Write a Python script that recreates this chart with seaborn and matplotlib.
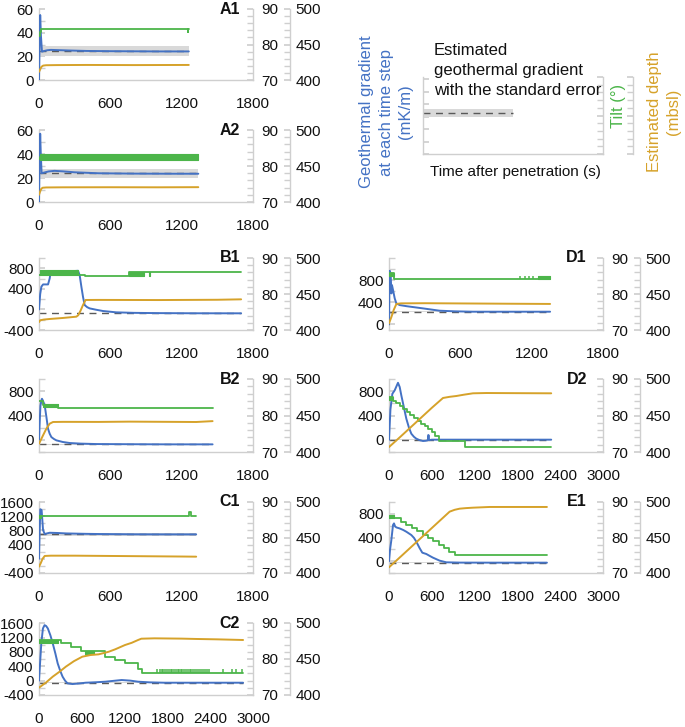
import matplotlib
matplotlib.use('Agg')
import matplotlib.pyplot as plt
import seaborn as sns
from matplotlib.ticker import MultipleLocator, NullFormatter

# colours
BLUE = '#4472C4'
GREEN = '#4CB54A'
GOLD = '#D6A22A'
SPINE = '#cfcfcf'
BAND = '#d9d9d9'
DASH = '#595959'

# ---------------- data ----------------
# A1
A1_GRAD_T = [0, 5, 10, 16, 25, 40, 70, 100, 160, 250, 400, 600, 800, 1000, 1260]
A1_GRAD = [0, 30, 55, 38, 24, 24.5, 25.2, 25.5, 25.3, 25.0, 24.6, 24.4, 24.3, 24.2, 24.2]
A1_EST, A1_SE = 24.2, 4.2
A1_TILT_T = [0, 8, 15, 1252, 1256, 1260]
A1_TILT = [82.3, 83.6, 84.3, 83.4, 84.3, 84.3]
A1_DEPTH_T = [0, 10, 20, 35, 60, 150, 400, 800, 1260]
A1_DEPTH = [411.5, 415, 418.5, 420.3, 420.8, 421.0, 421.2, 421.0, 421.2]
A1_FLICKER = []

# A2
A2_GRAD_T = [0, 4, 10, 15, 22, 40, 80, 130, 200, 300, 500, 800, 1100, 1340]
A2_GRAD = [0, 30, 57, 40, 24, 24.5, 25.5, 26.0, 25.6, 24.8, 24.0, 23.7, 23.6, 23.6]
A2_EST, A2_SE = 24.0, 3.8
A2_TILT_T = [0, 10, 1340]
A2_TILT = [81.9, 82.5, 82.5]
A2_DEPTH_T = [0, 8, 18, 30, 60, 200, 600, 1000, 1340]
A2_DEPTH = [410, 414, 418, 419.8, 420.2, 420.4, 420.5, 420.4, 420.6]
A2_FLICKER = [(10, 1340, 81.8, 83.2)]

# B1
B1_GRAD_T = [0, 10, 20, 34, 76, 90, 95, 104, 150, 202, 250, 286, 328, 342, 356, 370, 384, 405,
             426, 480, 538, 650, 800, 1000, 1300, 1700]
B1_GRAD = [0, 300, 443, 488, 488, 605, 689, 721, 730, 734, 740, 747, 754, 670, 450, 248, 86, 45,
           21, -5, -30, -56, -66, -71, -74, -75]
B1_EST, B1_SE = -70, 8
B1_TILT_T = [0, 340, 384, 756, 1700]
B1_TILT = [85.4, 85.3, 85.1, 86.0, 86.0]
B1_DEPTH_T = [0, 10, 40, 90, 200, 314, 330, 350, 370, 392, 500, 1000, 1500, 1700]
B1_DEPTH = [411.0, 413.5, 414.5, 415.3, 416.7, 418.5, 420.5, 427, 434.7, 441.7, 441.8, 441.6, 442.0, 442.6]
B1_FLICKER = [(5, 330, 85.4, 86.8), (756, 880, 85.1, 86.0), (925, 935, 85.1, 86.0)]

# B2
B2_GRAD_T = [0, 5, 12, 20, 25, 32, 48, 62, 76, 90, 104, 125, 146, 200, 258, 350, 482, 800, 1100, 1460]
B2_GRAD = [0, 250, 560, 650, 677, 650, 567, 380, 183, 100, 46, 15, -8, -35, -52, -62, -69, -72, -74, -74]
B2_EST, B2_SE = -74, 6
B2_TILT_T = [0, 30, 160, 1460]
B2_TILT = [83.9, 82.9, 82.1, 82.1]
B2_DEPTH_T = [0, 34, 62, 90, 118, 202, 500, 762, 1100, 1322, 1460]
B2_DEPTH = [411.4, 422.8, 432, 438.8, 441.1, 441.3, 441.2, 441.6, 441.3, 441.1, 442.3]
B2_FLICKER = [(30, 160, 82.3, 83.1)]

# C1
C1_GRAD_T = [0, 5, 11, 22, 34, 48, 70, 90, 150, 230, 400, 510, 800, 1100, 1322]
C1_GRAD = [0, 700, 1400, 1375, 811, 700, 720, 736, 730, 717, 705, 700, 692, 690, 690]
C1_EST, C1_SE = 689, 50
C1_TILT_T = [0, 20, 1265, 1275, 1322]
C1_TILT = [85.9, 86.15, 87.3, 86.15, 86.15]
C1_DEPTH_T = [0, 15, 30, 48, 100, 300, 600, 900, 1200, 1322]
C1_DEPTH = [408.9, 414, 420, 424, 424.4, 424.4, 424.0, 423.6, 423.2, 423.0]
C1_FLICKER = [(0, 20, 85.6, 86.4)]

# C2
C2_GRAD_T = [0, 32, 55, 78, 100, 124, 160, 193, 230, 262, 300, 331, 365, 400, 469, 560, 653, 800,
             929, 1050, 1159, 1280, 1389, 1550, 1757, 2200, 2861]
C2_GRAD = [0, 1035, 1452, 1544, 1520, 1452, 1260, 1035, 750, 480, 260, 109, 0, -76, -95, -80, -58, -45,
           -30, -5, 17, 0, -30, -48, -58, -58, -58]
C2_EST, C2_SE = -57, 10
C2_TILT_T = [0, 310, 446, 590, 920, 1060, 1200, 1390, 1440, 2861]
C2_TILT = [85.3, 84.4, 83.2, 82.3, 80.6, 79.7, 78.8, 77.3, 76.2, 76.2]
C2_DEPTH_T = [0, 100, 193, 290, 377, 490, 607, 720, 837, 975, 1067, 1205, 1300, 1389, 1435, 1619,
              2000, 2217, 2500, 2861]
C2_DEPTH = [410.2, 417.5, 425.5, 432.5, 439.4, 447, 453.2, 455.5, 456.5, 460, 463.4, 469.4, 472.5,
            476.4, 478.2, 478.7, 478.3, 477.8, 477.3, 476.4]
C2_FLICKER = [(0, 260, 84.4, 85.3), (650, 770, 81.4, 82.3)]
C2_SPIKE_T = [1660, 1690, 1720, 1745, 1770, 1800, 1825, 1850, 1870, 1895, 1920, 1945, 1965, 1990,
              2010, 2035, 2060, 2085, 2110, 2135, 2160, 2190, 2215, 2245, 2270, 2300, 2330, 2360,
              2390, 2585, 2705, 2765, 2845]
C2_SPIKE_LO, C2_SPIKE_HI = 76.2, 77.3

# D1
D1_GRAD_T = [0, 3, 6, 14, 20, 25, 34, 48, 62, 90, 150, 286, 426, 550, 706, 1000, 1355]
D1_GRAD = [0, 600, 971, 923, 562, 712, 622, 472, 381, 351, 330, 291, 249, 238, 231, 231, 231]
D1_EST, D1_SE = 231, 10
D1_TILT_T = [0, 39, 1355]
D1_TILT = [85.7, 84.1, 84.1]
D1_DEPTH_T = [0, 20, 40, 62, 100, 300, 700, 1000, 1355]
D1_DEPTH = [409.3, 418, 428, 436.1, 437, 437.2, 436.8, 436.5, 436.2]
D1_FLICKER = [(0, 39, 84.9, 85.9), (1250, 1355, 84.1, 85.0)]
D1_SPIKE_T = [1098, 1141, 1175, 1211]
D1_SPIKE_LO, D1_SPIKE_HI = 84.1, 85.0

# D2
D2_GRAD_T = [0, 20, 47, 79, 126, 150, 173, 208, 243, 280, 313, 350, 383, 430, 476, 520, 546, 551,
             556, 561, 600, 800, 1200, 1800, 2274]
D2_GRAD = [0, 500, 759, 814, 940, 870, 731, 540, 348, 200, 101, 50, 19, -5, -19, -15, -5, 80,
           74, -5, 3, 3, 3, 3, 3]
D2_EST, D2_SE = 4, 8
D2_TILT_T = [0, 50, 100, 150, 200, 250, 300, 350, 400, 450, 500, 550, 600, 650, 700, 1070, 2274]
D2_TILT = [85.1, 84.1, 83.4, 82.6, 81.8, 81.0, 80.2, 79.4, 78.6, 77.8, 77.0, 76.2, 75.4, 74.4,
           72.9, 71.3, 71.3]
D2_DEPTH_T = [0, 150, 300, 450, 600, 757, 850, 943, 1050, 1177, 1364, 1800, 2274]
D2_DEPTH = [406.8, 420, 433.5, 447, 460.5, 474, 475.6, 476.7, 478.5, 480.4, 480.8, 480.6, 480.4]
D2_FLICKER = [(0, 50, 84.2, 85.1)]

# E1
E1_GRAD_T = [0, 15, 33, 56, 70, 85, 103, 149, 200, 243, 313, 350, 383, 430, 467, 523, 570, 616,
             710, 803, 1000, 1500, 2214]
E1_GRAD = [0, 200, 358, 612, 640, 590, 572, 555, 528, 499, 443, 395, 330, 220, 144, 122, 90, 60,
           9, -19, -24, -25, -25]
E1_EST, E1_SE = -25, 6
E1_TILT_T = [0, 170, 245, 320, 395, 470, 545, 620, 695, 770, 845, 920, 2214]
E1_TILT = [85.4, 84.5, 83.6, 82.6, 81.7, 80.7, 79.8, 78.9, 77.9, 77.0, 76.0, 75.1, 75.1]
E1_DEPTH_T = [0, 200, 400, 600, 850, 920, 990, 1080, 1177, 1410, 1800, 2214]
E1_DEPTH = [408, 426.4, 444.9, 463.3, 486.4, 489, 490.6, 491.4, 492, 493, 493, 493]
E1_FLICKER = [(0, 70, 85.4, 86.3)]

# ---------------- figure ----------------
sns.set_theme(style='white')
plt.rcParams['font.family'] = ['Liberation Sans', 'DejaVu Sans']
plt.rcParams['axes.edgecolor'] = SPINE
plt.rcParams['axes.linewidth'] = 1.0

W, H = 685, 727
fig = plt.figure(figsize=(W / 100, H / 100), dpi=100)


def px_axes(left, top, right, bottom):
    return fig.add_axes([left / W, 1 - bottom / H, (right - left) / W, (bottom - top) / H])


def style_twins(ax, ax_t, ax_d, depth_pos):
    for a in (ax, ax_t, ax_d):
        a.set_facecolor('none')
        for s in a.spines.values():
            s.set_visible(False)
    ax.spines['left'].set_visible(True)
    ax.spines['bottom'].set_visible(True)
    ax_t.spines['right'].set_visible(True)
    ax_d.spines['right'].set_visible(True)
    ax_d.spines['right'].set_position(('axes', depth_pos))
    for a in (ax, ax_t, ax_d):
        for s in a.spines.values():
            s.set_color(SPINE)
    ax_t.set_ylim(70, 90)
    ax_d.set_ylim(400, 500)
    ax_t.yaxis.set_major_locator(MultipleLocator(10))
    ax_t.yaxis.set_minor_locator(MultipleLocator(2))
    ax_d.yaxis.set_major_locator(MultipleLocator(50))
    ax_d.yaxis.set_minor_locator(MultipleLocator(10))


def panel(rect, label, xmax, ylim, yticks, grad_t, grad, est, se,
          tilt_t, tilt, depth_t, depth, flicker, spikes=None, label_x=0.94):
    ax = px_axes(*rect)
    ax_t = ax.twinx()
    ax_d = ax.twinx()
    style_twins(ax, ax_t, ax_d, 1.173)

    t_end = grad_t[-1]
    ax.fill_between([0, t_end], [est - se] * 2, [est + se] * 2, color=BAND, lw=0, zorder=1)
    ax.plot([0, t_end], [est, est], color=DASH, lw=1.0, dashes=(5, 4), zorder=2)
    sns.lineplot(x=grad_t, y=grad, ax=ax, color=BLUE, lw=1.4, estimator=None, sort=False, zorder=3)

    for t0, t1, lo, hi in flicker:
        ax_t.fill_between([t0, t1], [lo, lo], [hi, hi], color=GREEN, lw=0.8, edgecolor=GREEN)
    if spikes is not None:
        s_t, s_lo, s_hi = spikes
        ax_t.vlines(s_t, s_lo, s_hi, color=GREEN, lw=1.1)
    sns.lineplot(x=tilt_t, y=tilt, ax=ax_t, color=GREEN, lw=1.3, estimator=None, sort=False,
                 drawstyle='steps-post')
    sns.lineplot(x=depth_t, y=depth, ax=ax_d, color=GOLD, lw=1.4, estimator=None, sort=False)

    for a in (ax, ax_t, ax_d):
        a.set_xlabel('')
        a.set_ylabel('')
    ax.set_xlim(0, xmax)
    span = ylim[1] - ylim[0]
    ax.set_ylim(ylim[0], ylim[1] + span * 0.002)
    ax.xaxis.set_major_locator(MultipleLocator(600))
    ax.xaxis.set_minor_locator(MultipleLocator(300))
    ax.set_yticks(yticks)
    ax.set_yticklabels([str(v) for v in yticks])
    step = yticks[1] - yticks[0]
    ax.yaxis.set_minor_locator(MultipleLocator(step / 2))

    ax.tick_params(axis='x', which='both', direction='in', length=4, color=SPINE,
                   pad=12, labelsize=11, labelcolor='#111111')
    ax.tick_params(axis='y', which='both', direction='in', length=4, color=SPINE,
                   pad=4, labelsize=11, labelcolor='#111111')
    ax_t.tick_params(axis='y', which='both', direction='in', length=4, color=SPINE,
                     pad=6, labelsize=11, labelcolor='#111111')
    ax_d.tick_params(axis='y', which='both', direction='in', length=4, color=SPINE,
                     pad=4, labelsize=11, labelcolor='#111111')
    ax.text(label_x, 1.0, label, transform=ax.transAxes, ha='right', va='center',
            fontsize=11.5, fontweight='bold', color='#111111')
    return ax


LEFT = (39, 253)
RIGHT = (389, 603)

panel((LEFT[0], 9, LEFT[1], 80), 'A1', 1800, (0, 60), [0, 20, 40, 60],
      A1_GRAD_T, A1_GRAD, A1_EST, A1_SE, A1_TILT_T, A1_TILT, A1_DEPTH_T, A1_DEPTH, A1_FLICKER)
panel((LEFT[0], 130, LEFT[1], 202), 'A2', 1800, (0, 60), [0, 20, 40, 60],
      A2_GRAD_T, A2_GRAD, A2_EST, A2_SE, A2_TILT_T, A2_TILT, A2_DEPTH_T, A2_DEPTH, A2_FLICKER)
panel((LEFT[0], 258, LEFT[1], 330), 'B1', 1800, (-400, 1000), [-400, 0, 400, 800],
      B1_GRAD_T, B1_GRAD, B1_EST, B1_SE, B1_TILT_T, B1_TILT, B1_DEPTH_T, B1_DEPTH, B1_FLICKER)
panel((LEFT[0], 379, LEFT[1], 452), 'B2', 1800, (-200, 1000), [0, 400, 800],
      B2_GRAD_T, B2_GRAD, B2_EST, B2_SE, B2_TILT_T, B2_TILT, B2_DEPTH_T, B2_DEPTH, B2_FLICKER)
panel((LEFT[0], 502, LEFT[1], 573), 'C1', 1800, (-400, 1600), [-400, 0, 400, 800, 1200, 1600],
      C1_GRAD_T, C1_GRAD, C1_EST, C1_SE, C1_TILT_T, C1_TILT, C1_DEPTH_T, C1_DEPTH, C1_FLICKER)
panel((LEFT[0], 623, LEFT[1], 695), 'C2', 3000, (-400, 1600), [-400, 0, 400, 800, 1200, 1600],
      C2_GRAD_T, C2_GRAD, C2_EST, C2_SE, C2_TILT_T, C2_TILT, C2_DEPTH_T, C2_DEPTH, C2_FLICKER,
      spikes=(C2_SPIKE_T, C2_SPIKE_LO, C2_SPIKE_HI))
panel((RIGHT[0], 258, RIGHT[1], 330), 'D1', 1800, (-100, 1200), [0, 400, 800],
      D1_GRAD_T, D1_GRAD, D1_EST, D1_SE, D1_TILT_T, D1_TILT, D1_DEPTH_T, D1_DEPTH, D1_FLICKER,
      spikes=(D1_SPIKE_T, D1_SPIKE_LO, D1_SPIKE_HI), label_x=0.925)
panel((RIGHT[0], 379, RIGHT[1], 452), 'D2', 3000, (-200, 1000), [0, 400, 800],
      D2_GRAD_T, D2_GRAD, D2_EST, D2_SE, D2_TILT_T, D2_TILT, D2_DEPTH_T, D2_DEPTH, D2_FLICKER,
      label_x=0.925)
panel((RIGHT[0], 502, RIGHT[1], 573), 'E1', 3000, (-200, 1000), [0, 400, 800],
      E1_GRAD_T, E1_GRAD, E1_EST, E1_SE, E1_TILT_T, E1_TILT, E1_DEPTH_T, E1_DEPTH, E1_FLICKER,
      label_x=0.925)

# ---------------- key panel (top right) ----------------
key = px_axes(423, 77, 603, 154)
key_t = key.twinx()
key_d = key.twinx()
style_twins(key, key_t, key_d, 1.167)
key.set_xlim(0, 5)
key.set_ylim(0, 6.2)
key.fill_between([0, 2.5], [2.95, 2.95], [3.65, 3.65], color=BAND, lw=0)
key.plot([0, 2.5], [3.3, 3.3], color=DASH, lw=1.0, dashes=(5, 4))
key.xaxis.set_major_locator(MultipleLocator(1))
key.yaxis.set_major_locator(MultipleLocator(1))
for a in (key, key_t, key_d):
    a.xaxis.set_major_formatter(NullFormatter())
    a.yaxis.set_major_formatter(NullFormatter())
    a.yaxis.set_minor_formatter(NullFormatter())
key.tick_params(axis='both', which='both', direction='in', length=4, color=SPINE)
key_t.tick_params(axis='y', which='both', direction='in', length=4, color=SPINE)
key_d.tick_params(axis='y', which='both', direction='in', length=4, color=SPINE)


def fx(x):
    return x / W


def fy(y):
    return 1 - y / H


fig.text(fx(434), fy(43), 'Estimated\ngeothermal gradient\nwith the standard error',
         ha='left', va='top', fontsize=12, color='#111111', linespacing=1.4)
fig.text(fx(515), fy(172), 'Time after penetration (s)', ha='center', va='center',
         fontsize=11, color='#111111')
fig.text(fx(386), fy(112), 'Geothermal gradient\nat each time step\n(mK/m)', ha='center',
         va='center', rotation=90, fontsize=12, color=BLUE, linespacing=1.35, multialignment='center')
fig.text(fx(618), fy(106), 'Tilt (°)', ha='center', va='center', rotation=90,
         fontsize=12, color=GREEN)
fig.text(fx(664), fy(112), 'Estimated depth\n(mbsl)', ha='center', va='center', rotation=90,
         fontsize=12, color=GOLD, linespacing=1.35, multialignment='center')

fig.savefig('out.png', dpi=100)
